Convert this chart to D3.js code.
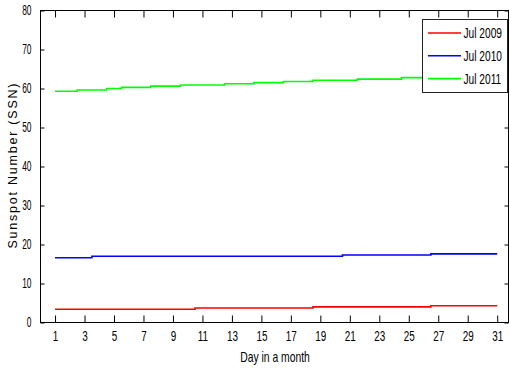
<!DOCTYPE html>
<html><head><meta charset="utf-8">
<script src="https://cdn.jsdelivr.net/npm/d3@7"></script>
<style>
html,body{margin:0;padding:0;background:#fff;}
svg{display:block;}
text{font-family:"Liberation Sans",Arial,sans-serif;fill:#000;}
</style></head>
<body>
<svg id="c" width="510" height="372"></svg>
<script>
const days = d3.range(1, 32);
const xTicks = [1,3,5,7,9,11,13,15,17,19,21,23,25,27,29,31];
const yTicks = [0,10,20,30,40,50,60,70,80];
const seriesNames = ["Jul 2009", "Jul 2010", "Jul 2011"];
const seriesColors = ["#ff0000", "#0000ff", "#00ff00"];
const jul2009 = [3.4,3.4,3.4,3.4,3.4,3.4,3.4,3.4,3.4,3.4, 3.7,3.7,3.7,3.7,3.7,3.7,3.7,3.7, 4.0,4.0,4.0,4.0,4.0,4.0,4.0,4.0, 4.3,4.3,4.3,4.3,4.3];
const jul2010 = [16.6,16.6,16.6, 17.0,17.0,17.0,17.0,17.0,17.0,17.0,17.0,17.0,17.0,17.0,17.0,17.0,17.0,17.0,17.0,17.0, 17.3,17.3,17.3,17.3,17.3,17.3, 17.6,17.6,17.6,17.6,17.6];
const jul2011 = [59.3,59.3, 59.6,59.6, 60.0, 60.3,60.3, 60.6,60.6, 60.9,60.9,60.9, 61.2,61.2, 61.5,61.5, 61.8,61.8, 62.1,62.1,62.1, 62.4,62.4,62.4, 62.8,62.8,62.8, 63.1,63.1,63.1,63.1];
const seriesValues = [jul2009, jul2010, jul2011];

const L = 40.5, R = 508.5, T = 10.5, B = 322.5;
const svg = d3.select("#c");
const x = d3.scaleLinear().domain([0, 31.8]).range([40.3, 509]);
const y = d3.scaleLinear().domain([0, 80]).range([B, T]);

function condense(sel, s) {
  sel.each(function() {
    const t = d3.select(this);
    const xa = +t.attr("x") || 0;
    const ya = +t.attr("y") || 0;
    t.attr("x", 0).attr("y", 0).attr("transform", `translate(${xa},${ya}) scale(${s},1)`);
  });
}

// lines
const line = d3.line().curve(d3.curveStep).x((d, i) => x(days[i])).y(d => y(d));
seriesValues.forEach((vals, k) => {
  svg.append("path").datum(vals).attr("d", line)
    .attr("fill", "none").attr("stroke", seriesColors[k]).attr("stroke-width", 1.6);
});

// axes
const gB = svg.append("g").attr("transform", `translate(0,${B})`)
  .call(d3.axisBottom(x).tickValues(xTicks).tickSizeInner(-7).tickSizeOuter(0).tickPadding(8).tickFormat(d3.format("d")));
const gT = svg.append("g").attr("transform", `translate(0,${T})`)
  .call(d3.axisTop(x).tickValues(xTicks).tickSizeInner(-7).tickSizeOuter(0).tickFormat(""));
const gL = svg.append("g").attr("transform", `translate(${L},0)`)
  .call(d3.axisLeft(y).tickValues(yTicks).tickSizeInner(-4).tickSizeOuter(0).tickPadding(9).tickFormat(d3.format("d")));
const gR = svg.append("g").attr("transform", `translate(${R},0)`)
  .call(d3.axisRight(y).tickValues(yTicks).tickSizeInner(-4).tickSizeOuter(0).tickFormat(""));
[gB, gT, gL, gR].forEach(g => {
  g.select(".domain").remove();
  g.selectAll(".tick line").attr("stroke", "#000").attr("stroke-width", 1);
});
gB.selectAll(".tick text").attr("font-size", 15).attr("font-family", "Liberation Sans");
condense(gB.selectAll(".tick text"), 0.66);
gL.selectAll(".tick text").attr("font-size", 14).attr("font-family", "Liberation Sans");
condense(gL.selectAll(".tick text"), 0.6);

// frame
svg.append("rect").attr("x", L).attr("y", T).attr("width", R - L).attr("height", B - T)
  .attr("fill", "none").attr("stroke", "#000").attr("stroke-width", 1);

// axis titles
const xl = svg.append("text").attr("x", 275).attr("y", 362).attr("text-anchor", "middle")
  .attr("font-size", 14).text("Day in a month");
condense(xl, 0.74);
svg.append("text").attr("transform", "translate(17,166) rotate(-90)").attr("text-anchor", "middle")
  .attr("font-size", 12.5).attr("textLength", 165).attr("lengthAdjust", "spacing")
  .text("Sunspot Number (SSN)");

// legend
const lg = svg.append("g");
lg.append("rect").attr("x", 422.5).attr("y", 19.5).attr("width", 85).attr("height", 73)
  .attr("fill", "#fff").attr("stroke", "#222").attr("stroke-width", 1);
seriesNames.forEach((n, k) => {
  const yy = 33 + k * 22.8;
  lg.append("line").attr("x1", 428).attr("x2", 461).attr("y1", yy).attr("y2", yy)
    .attr("stroke", seriesColors[k]).attr("stroke-width", 1.6);
  const t = lg.append("text").attr("x", 463.5).attr("y", yy + 5).attr("font-size", 15).text(n);
  condense(t, 0.68);
});
</script>
</body></html>
